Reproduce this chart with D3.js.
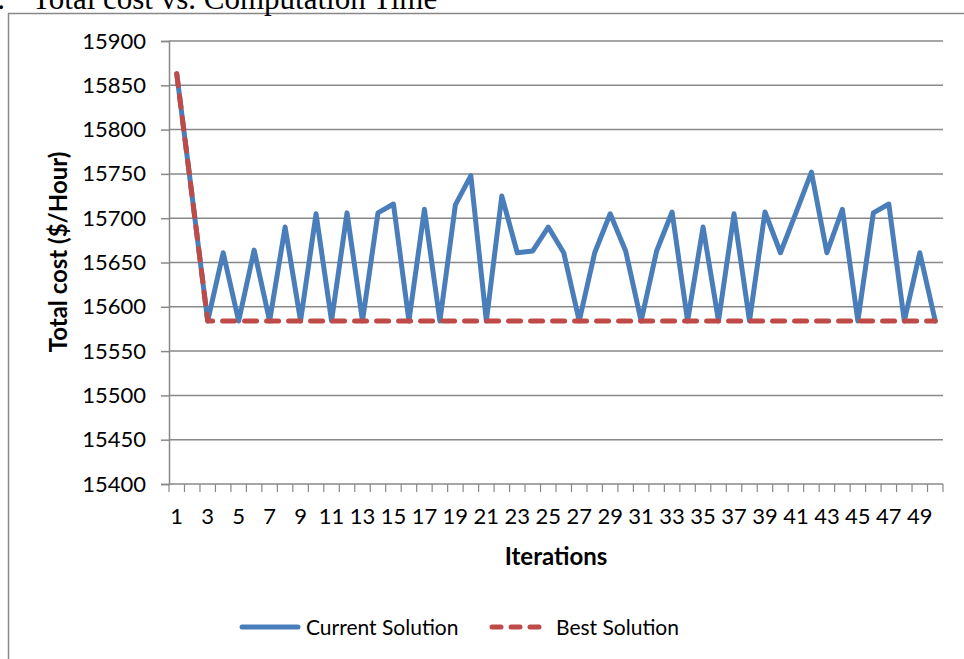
<!DOCTYPE html>
<html>
<head>
<meta charset="utf-8">
<script src="https://cdn.jsdelivr.net/npm/d3@7"></script>
<style>
  html, body { margin: 0; padding: 0; background: #fff; }
  svg { display: block; }
  .lbl { font-family: Lato, "Open Sans", sans-serif; fill: #000; }
</style>
</head>
<body>
<svg id="chart" width="964" height="659"></svg>
<script>
const iterations = d3.range(1, 51);
const currentSolution = [
  15863, 15724, 15584, 15661, 15584, 15664, 15584, 15690, 15584, 15705,
  15584, 15706, 15584, 15706, 15716, 15584, 15710, 15584, 15715, 15748,
  15584, 15725, 15661, 15663, 15690, 15661, 15584, 15661, 15705, 15663,
  15584, 15663, 15707, 15584, 15690, 15584, 15705, 15584, 15707, 15661,
  15706, 15752, 15661, 15710, 15584, 15706, 15716, 15584, 15661, 15584
];
const bestSolution = [
  15863, 15724, 15584, 15584, 15584, 15584, 15584, 15584, 15584, 15584,
  15584, 15584, 15584, 15584, 15584, 15584, 15584, 15584, 15584, 15584,
  15584, 15584, 15584, 15584, 15584, 15584, 15584, 15584, 15584, 15584,
  15584, 15584, 15584, 15584, 15584, 15584, 15584, 15584, 15584, 15584,
  15584, 15584, 15584, 15584, 15584, 15584, 15584, 15584, 15584, 15584
];
const yTicks = [15400, 15450, 15500, 15550, 15600, 15650, 15700, 15750, 15800, 15850, 15900];
const xTickLabels = iterations.filter(d => d % 2 === 1);
const seriesNames = ["Current Solution", "Best Solution"];
const titleText = "Total cost vs. Computation Time";
const yTitle = "Total cost ($/Hour)";
const xTitle = "Iterations";

const svg = d3.select("#chart");
const gridColor = "#888888";
const blue = "#4a7ebb";
const red = "#be4b48";

const plot = { left: 169, right: 943, top: 41, bottom: 484 };

const x = d3.scaleBand().domain(iterations).range([plot.left, plot.right]);
const y = d3.scaleLinear().domain([15400, 15900]).range([plot.bottom, plot.top]);
const cx = d => x(d) + x.bandwidth() / 2;

// Outer chart border (partially visible)
svg.append("line").attr("x1", 8).attr("x2", 964).attr("y1", 13.5).attr("y2", 13.5)
  .attr("stroke", gridColor).attr("stroke-width", 1.5);
svg.append("line").attr("x1", 8.5).attr("x2", 8.5).attr("y1", 13).attr("y2", 659)
  .attr("stroke", gridColor).attr("stroke-width", 1.5);

// Page title (cut at top, as in the reference)
svg.append("text").attr("x", 5).attr("y", 9).attr("text-anchor", "end")
  .style("font-family", "'Liberation Serif', 'Times New Roman', serif").style("font-size", "31px")
  .text("1.");
svg.append("text").attr("x", 32).attr("y", 9)
  .style("font-family", "'Liberation Serif', 'Times New Roman', serif").style("font-size", "31px")
  .text(titleText);

// Gridlines
svg.append("g").selectAll("line").data(yTicks.filter(t => t !== 15400)).join("line")
  .attr("x1", plot.left).attr("x2", plot.right)
  .attr("y1", d => y(d)).attr("y2", d => y(d))
  .attr("stroke", gridColor).attr("stroke-width", 1.5);

// Y axis
const yAxis = svg.append("g").attr("transform", `translate(${plot.left},0)`)
  .call(d3.axisLeft(y).tickValues(yTicks).tickSize(8).tickPadding(15).tickFormat(d3.format("d")));
yAxis.select(".domain").attr("stroke", gridColor).attr("stroke-width", 1.5);
yAxis.selectAll(".tick line").attr("stroke", gridColor).attr("stroke-width", 1.5);
yAxis.selectAll(".tick text").attr("class", "lbl").style("font-size", "22px");

// X axis (ticks at category boundaries)
const boundaries = iterations.map(d => x(d)).concat([plot.right]);
svg.append("line").attr("x1", plot.left).attr("x2", plot.right)
  .attr("y1", plot.bottom).attr("y2", plot.bottom)
  .attr("stroke", gridColor).attr("stroke-width", 1.5);
svg.append("g").selectAll("line").data(boundaries).join("line")
  .attr("x1", d => d).attr("x2", d => d)
  .attr("y1", plot.bottom).attr("y2", plot.bottom + 8)
  .attr("stroke", gridColor).attr("stroke-width", 1.2);
svg.append("g").selectAll("text").data(xTickLabels).join("text")
  .attr("class", "lbl").style("font-size", "22px")
  .attr("x", d => cx(d)).attr("y", 524).attr("text-anchor", "middle")
  .text(d => d);

// Axis titles
svg.append("text").attr("class", "lbl")
  .attr("transform", `translate(67,252) rotate(-90)`).attr("text-anchor", "middle")
  .style("font-size", "24px").style("font-weight", "bold").text(yTitle);
svg.append("text").attr("class", "lbl")
  .attr("x", (plot.left + plot.right) / 2).attr("y", 565).attr("text-anchor", "middle")
  .style("font-size", "24px").style("font-weight", "bold").text(xTitle);

// Series
const line = d3.line().x((d, i) => cx(iterations[i])).y(d => y(d));
svg.append("path").datum(currentSolution).attr("d", line)
  .attr("fill", "none").attr("stroke", blue).attr("stroke-width", 5)
  .attr("stroke-linejoin", "round").attr("stroke-linecap", "round");
svg.append("path").datum(bestSolution).attr("d", line)
  .attr("fill", "none").attr("stroke", red).attr("stroke-width", 5)
  .attr("stroke-dasharray", "12,10").attr("stroke-linecap", "round")
  .attr("stroke-linejoin", "round");

// Legend
const legend = svg.append("g");
legend.append("line").attr("x1", 242).attr("x2", 298).attr("y1", 627).attr("y2", 627)
  .attr("stroke", blue).attr("stroke-width", 5).attr("stroke-linecap", "round");
legend.append("text").attr("class", "lbl").attr("x", 306).attr("y", 635)
  .style("font-size", "21px").text(seriesNames[0]);
legend.append("line").attr("x1", 492).attr("x2", 540).attr("y1", 627).attr("y2", 627)
  .attr("stroke", red).attr("stroke-width", 5).attr("stroke-linecap", "round")
  .attr("stroke-dasharray", "9,10");
legend.append("text").attr("class", "lbl").attr("x", 556).attr("y", 635)
  .style("font-size", "21px").text(seriesNames[1]);
</script>
</body>
</html>
